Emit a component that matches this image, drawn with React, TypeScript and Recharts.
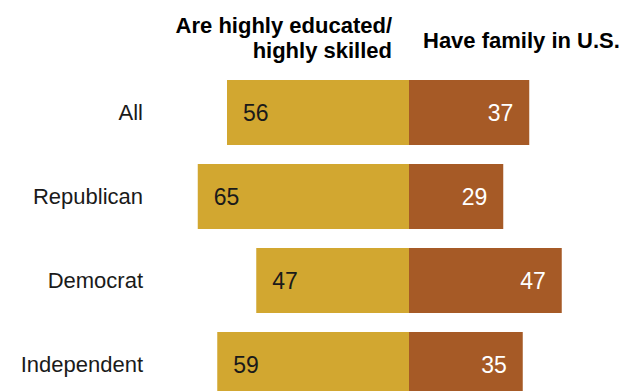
import React from "react";
import { Bar, BarChart, LabelList, XAxis, YAxis } from "recharts";

const groups = ["All", "Republican", "Democrat", "Independent"];
const educated = [56, 65, 47, 59];
const family = [37, 29, 47, 35];

const GOLD = "#D2A730";
const BROWN = "#A65A26";
const FONT = "'Liberation Sans', Arial, sans-serif";

const data = groups.map((g, i) => ({
  group: g,
  educated: -educated[i],
  family: family[i],
}));

function LeftLabel(props: any) {
  const { x, y, width, height, value } = props;
  const left = Math.min(x, x + width);
  return (
    <text
      x={left + 16}
      y={y + height / 2}
      dy="0.36em"
      textAnchor="start"
      fill="#1a1a1a"
      fontSize={23}
      fontFamily={FONT}
    >
      {Math.abs(value)}
    </text>
  );
}

function RightLabel(props: any) {
  const { x, y, width, height, value } = props;
  const right = Math.max(x, x + width);
  return (
    <text
      x={right - 16}
      y={y + height / 2}
      dy="0.36em"
      textAnchor="end"
      fill="#ffffff"
      fontSize={23}
      fontFamily={FONT}
    >
      {value}
    </text>
  );
}

export default function App() {
  return (
    <div
      style={{
        position: "relative",
        width: 626,
        height: 391,
        overflow: "hidden",
        background: "#fff",
        fontFamily: FONT,
      }}
    >
      <style>{"body{margin:0}"}</style>
      <div
        style={{
          position: "absolute",
          right: 626 - 392,
          top: 13,
          textAlign: "right",
          fontSize: 22,
          lineHeight: "25px",
          fontWeight: 700,
          color: "#000",
          whiteSpace: "nowrap",
        }}
      >
        Are highly educated/
        <br />
        highly skilled
      </div>
      <div
        style={{
          position: "absolute",
          left: 423,
          top: 28,
          fontSize: 22,
          lineHeight: "25px",
          fontWeight: 700,
          color: "#000",
          whiteSpace: "nowrap",
        }}
      >
        Have family in U.S.
      </div>
      <div style={{ position: "absolute", left: 0, top: 0 }}>
        <BarChart
          width={626}
          height={420}
          data={data}
          layout="vertical"
          stackOffset="sign"
          barSize={65}
          margin={{ top: 70, right: 22, bottom: 14, left: 0 }}
        >
          <XAxis type="number" domain={[-80, 60]} hide allowDataOverflow />
          <YAxis
            type="category"
            dataKey="group"
            width={149}
            axisLine={false}
            tickLine={false}
            tickSize={0}
            tickMargin={6}
            tick={{ fill: "#1a1a1a", fontSize: 22, fontFamily: FONT }}
          />
          <Bar dataKey="educated" stackId="a" fill={GOLD} isAnimationActive={false}>
            <LabelList dataKey="educated" content={LeftLabel} />
          </Bar>
          <Bar dataKey="family" stackId="a" fill={BROWN} isAnimationActive={false}>
            <LabelList dataKey="family" content={RightLabel} />
          </Bar>
        </BarChart>
      </div>
    </div>
  );
}
